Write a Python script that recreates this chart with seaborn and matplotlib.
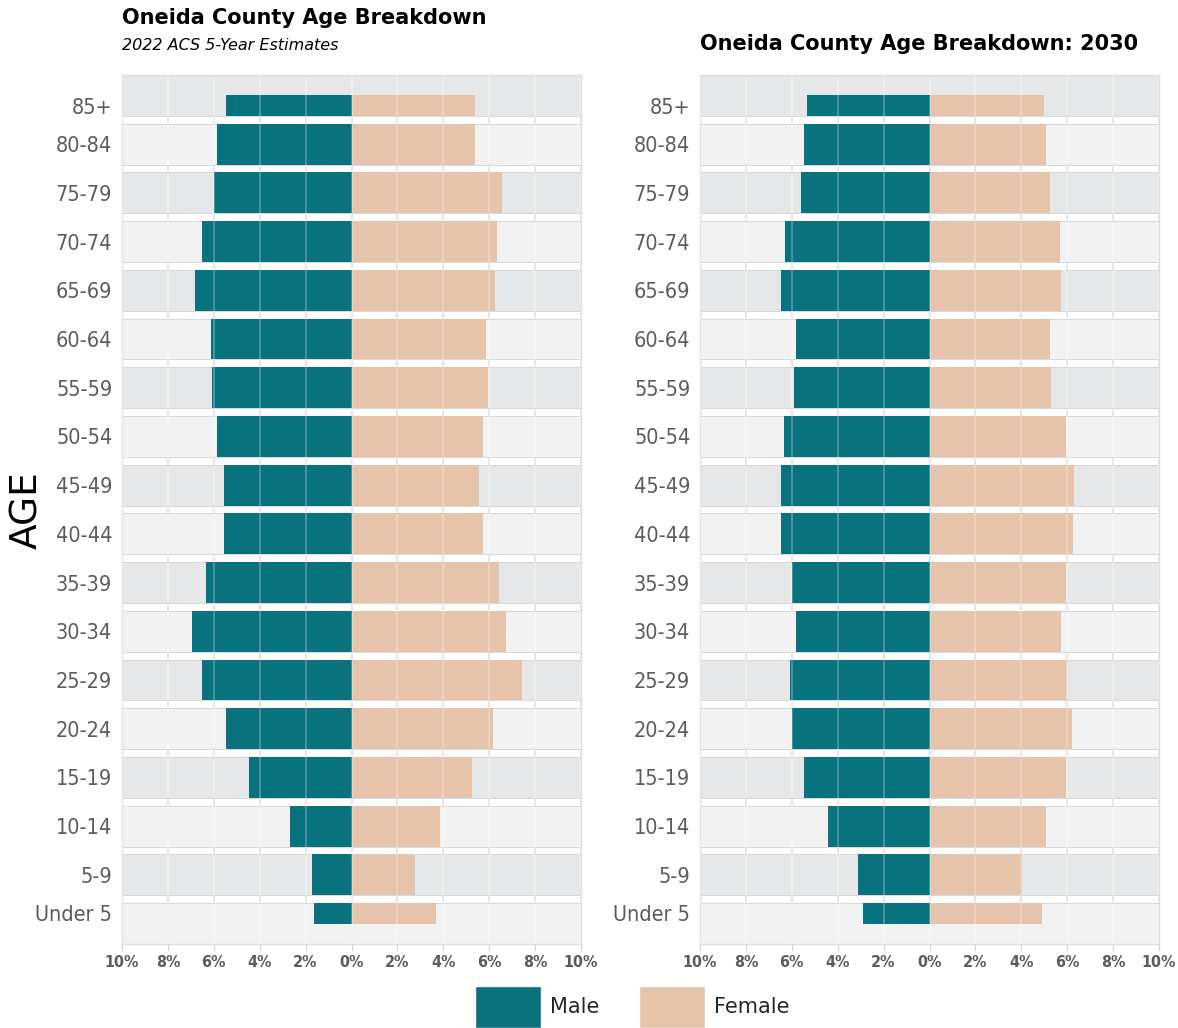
import matplotlib
matplotlib.use('Agg')
import matplotlib.pyplot as plt
from matplotlib import font_manager
from matplotlib.patches import Patch
import seaborn as sns
import pandas as pd

# age groups, top to bottom
ages = ['85+', '80-84', '75-79', '70-74', '65-69', '60-64', '55-59', '50-54', '45-49',
        '40-44', '35-39', '30-34', '25-29', '20-24', '15-19', '10-14', '5-9', 'Under 5']

# share of population (%)
male_2022 = [5.45, 5.87, 5.97, 6.52, 6.84, 6.14, 6.07, 5.84, 5.57,
             5.57, 6.33, 6.96, 6.52, 5.48, 4.46, 2.70, 1.72, 1.63]
female_2022 = [5.37, 5.37, 6.57, 6.35, 6.26, 5.86, 5.94, 5.72, 5.55,
               5.72, 6.43, 6.74, 7.43, 6.16, 5.23, 3.87, 2.78, 3.67]
male_2030 = [5.33, 5.48, 5.62, 6.28, 6.48, 5.81, 5.91, 6.33, 6.49,
             6.49, 6.00, 5.81, 6.07, 5.97, 5.48, 4.42, 3.11, 2.90]
female_2030 = [5.01, 5.09, 5.23, 5.70, 5.72, 5.26, 5.30, 5.94, 6.29,
               6.26, 5.93, 5.74, 6.01, 6.22, 5.93, 5.06, 4.05, 4.90]

x_ticks = [-10, -8, -6, -4, -2, 0, 2, 4, 6, 8, 10]

TEAL = '#08727e'
PEACH = '#e5c4ab'
BAND_DARK = '#e6e7e8'
BAND_LIGHT = '#f2f2f2'
GREY_TXT = '#5c5c5c'
BAND_H = 0.84

sns.set_style('white')
plt.rcParams['font.family'] = ['DejaVu Sans']

# look for a narrow face for the tick labels
narrow = None
for f in font_manager.fontManager.ttflist:
    if f.stretch in ('condensed', 'semi-condensed', 'extra-condensed') or \
            'Narrow' in f.name or 'Condensed' in f.name:
        if narrow is None or f.name == 'DejaVu Sans':
            narrow = f
if narrow is not None:
    NARROW = dict(fontfamily=narrow.name, fontstretch=narrow.stretch)
    Y_SIZE, X_SIZE, X_W = 15.5, 11.5, 'bold'
else:
    NARROW = dict(fontfamily='DejaVu Sans')
    Y_SIZE, X_SIZE, X_W = 13, 10, 'bold'


def draw_pyramid(ax, male, female):
    df = pd.DataFrame({
        'age': ages * 2,
        'sex': ['Male'] * len(ages) + ['Female'] * len(ages),
        'pct': [-v for v in male] + list(female),
    })
    sns.barplot(data=df, x='pct', y='age', hue='sex', order=ages, orient='h',
                palette={'Male': TEAL, 'Female': PEACH}, dodge=False,
                width=BAND_H, saturation=1, legend=False, ax=ax, zorder=2)
    bars = list(ax.patches)
    n = len(ages)
    # first and last rows only show half a bar, pushed toward the inside
    for p in bars:
        yc = p.get_y() + p.get_height() / 2
        p.set_linewidth(0)
        if abs(yc - 0) < 0.01:
            p.set_y(0)
            p.set_height(BAND_H / 2)
        elif abs(yc - (n - 1)) < 0.01:
            p.set_y(n - 1 - BAND_H / 2)
            p.set_height(BAND_H / 2)

    for i in range(n):
        ax.axhspan(i - BAND_H / 2, i + BAND_H / 2,
                   facecolor=BAND_DARK if i % 2 == 0 else BAND_LIGHT,
                   edgecolor='#d4d4d4', linewidth=0.6, zorder=1)
    for xv in x_ticks:
        ax.axvline(xv, color='#d8d8d8', lw=1.2, zorder=0.5)
        ax.axvline(xv, color='white', lw=1.2, alpha=0.3, zorder=3)

    ax.set_xlim(-10, 10)
    ax.set_ylim(n - 1 + BAND_H / 2, -BAND_H / 2)
    ax.set_xticks(x_ticks)
    ax.set_xticklabels([f'{abs(v)}%' for v in x_ticks], fontweight=X_W,
                       fontsize=X_SIZE, color=GREY_TXT, **NARROW)
    ypos = list(range(n))
    ypos[0] = BAND_H / 4
    ypos[-1] = n - 1 - BAND_H / 4
    ax.set_yticks(ypos)
    ax.set_yticklabels(ages, fontsize=Y_SIZE, color=GREY_TXT, **NARROW)
    ax.tick_params(axis='x', length=4, color='#d0d0d0', pad=4, bottom=True)
    ax.tick_params(axis='y', length=0, pad=7)
    ax.set_xlabel('')
    ax.set_ylabel('')
    for s in ax.spines.values():
        s.set_color('#dedede')
        s.set_linewidth(1)


fig = plt.figure(figsize=(11.78, 10.28), dpi=100)
ax1 = fig.add_axes([122 / 1178, 1 - 944 / 1028, 459 / 1178, 869 / 1028])
ax2 = fig.add_axes([700 / 1178, 1 - 944 / 1028, 459 / 1178, 869 / 1028])

draw_pyramid(ax1, male_2022, female_2022)
draw_pyramid(ax2, male_2030, female_2030)

fig.text(122 / 1178, 1 - 18 / 1028, 'Oneida County Age Breakdown', fontsize=15,
         fontweight='heavy', color='black', ha='left', va='center')
fig.text(122 / 1178, 1 - 45 / 1028, '2022 ACS 5-Year Estimates', fontsize=11.5,
         fontstyle='italic', color='black', ha='left', va='center')
fig.text(700 / 1178, 1 - 44 / 1028, 'Oneida County Age Breakdown: 2030', fontsize=15,
         fontweight='heavy', color='black', ha='left', va='center')
fig.text(27 / 1178, 1 - 510 / 1028, 'AGE', fontsize=27, rotation=90,
         color='black', ha='center', va='center')

handles = [Patch(facecolor=TEAL, label='Male'), Patch(facecolor=PEACH, label='Female')]
fig.legend(handles=handles, loc='center', bbox_to_anchor=(632 / 1178, 1 - 1007 / 1028),
           ncol=2, frameon=False, fontsize=15, handlelength=3.2, handleheight=2.7,
           handletextpad=0.4, columnspacing=1.9)

fig.savefig('out.png', dpi=100, facecolor='white')
